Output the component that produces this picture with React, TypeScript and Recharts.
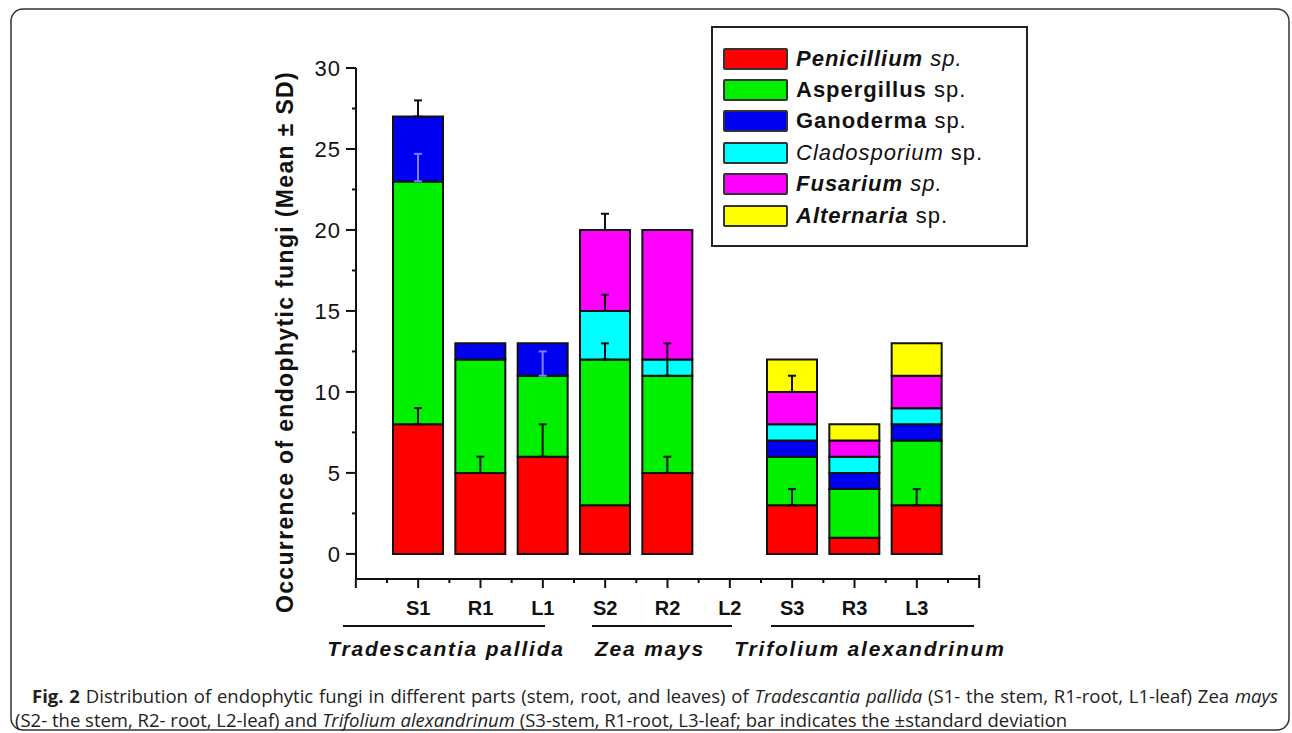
import React from 'react'
import { Bar, BarChart, ErrorBar, Legend, XAxis, YAxis } from 'recharts'

// plant parts (x categories)
const parts = ['S1', 'R1', 'L1', 'S2', 'R2', 'L2', 'S3', 'R3', 'L3']
const plantGroups = ['Tradescantia pallida', 'Zea mays', 'Trifolium alexandrinum']

// occurrence per fungus (stacked, bottom to top)
const penicillium = [8, 5, 6, 3, 5, 0, 3, 1, 3]
const aspergillus = [15, 7, 5, 9, 6, 0, 3, 3, 4]
const ganoderma = [4, 1, 2, 0, 0, 0, 1, 1, 1]
const cladosporium = [0, 0, 0, 3, 1, 0, 1, 1, 1]
const fusarium = [0, 0, 0, 5, 8, 0, 2, 1, 2]
const alternaria = [0, 0, 0, 0, 0, 0, 2, 1, 2]

// standard deviations (null = no bar drawn)
const penicilliumSd = [1, 1, 2, null, 1, null, 1, null, 1]
const aspergillusSd = [null, null, null, 1, 2, null, null, null, null]
const aspergillusFaintSd = [1.7, null, 1.5, null, null, null, null, null, null]
const ganodermaSd = [1, null, null, null, null, null, null, null, null]
const cladosporiumSd = [null, null, null, 1, null, null, null, null, null]
const fusariumSd = [null, null, null, 1, null, null, 1, null, null]

const yTicks = [0, 2.5, 5, 7.5, 10, 12.5, 15, 17.5, 20, 22.5, 25, 27.5, 30]

const series = [
    { key: 'penicillium', name: 'Penicillium', color: '#ff0000', values: penicillium, sd: penicilliumSd },
    { key: 'aspergillus', name: 'Aspergillus', color: '#00f000', values: aspergillus, sd: aspergillusSd, faint: aspergillusFaintSd },
    { key: 'ganoderma', name: 'Ganoderma', color: '#0000f0', values: ganoderma, sd: ganodermaSd },
    { key: 'cladosporium', name: 'Cladosporium', color: '#00ffff', values: cladosporium, sd: cladosporiumSd },
    { key: 'fusarium', name: 'Fusarium', color: '#ff00ff', values: fusarium, sd: fusariumSd },
    { key: 'alternaria', name: 'Alternaria', color: '#ffff00', values: alternaria, sd: null as (number | null)[] | null },
]

const legendStyles: Record<string, { name: React.CSSProperties; sp: React.CSSProperties }> = {
    Penicillium: { name: { fontWeight: 'bold', fontStyle: 'italic' }, sp: { fontStyle: 'italic' } },
    Aspergillus: { name: { fontWeight: 'bold' }, sp: {} },
    Ganoderma: { name: { fontWeight: 'bold' }, sp: {} },
    Cladosporium: { name: { fontStyle: 'italic' }, sp: {} },
    Fusarium: { name: { fontWeight: 'bold', fontStyle: 'italic' }, sp: { fontStyle: 'italic' } },
    Alternaria: { name: { fontWeight: 'bold', fontStyle: 'italic' }, sp: {} },
}

const data = parts.map((part, i) => {
    const row: Record<string, unknown> = { part }
    series.forEach((s) => {
        row[s.key] = s.values[i]
        const sd = s.sd ? s.sd[i] : null
        row[s.key + 'Err'] = sd == null ? null : [0, sd]
        const f = s.faint ? s.faint[i] : null
        row[s.key + 'Faint'] = f == null ? null : [0, f]
    })
    return row
})

const FONT = '"Liberation Sans", Arial, sans-serif'
const INK = '#111'

const XTick = (props: any) => {
    const { x, y, payload, index } = props
    const half = payload && payload.offset ? payload.offset : 31.2
    const last = index === parts.length - 1
    return (
        <g>
            <line x1={x} y1={y} x2={x} y2={y + 9} stroke={INK} strokeWidth={2} />
            <line x1={x - half} y1={y} x2={x - half} y2={y + 4} stroke={INK} strokeWidth={2} />
            {index === 0 && <line x1={x - 2 * half} y1={y} x2={x - 2 * half} y2={y + 9} stroke={INK} strokeWidth={2} />}
            {last && <line x1={x + half} y1={y} x2={x + half} y2={y + 4} stroke={INK} strokeWidth={2} />}
            {last && <line x1={x + 2 * half} y1={y - 4} x2={x + 2 * half} y2={y + 9} stroke={INK} strokeWidth={2} />}
            <text x={x} y={y + 36} textAnchor="middle" fontFamily={FONT} fontWeight="bold" fontSize={20} fill={INK}>
                {payload.value}
            </text>
        </g>
    )
}

const YTick = (props: any) => {
    const { x, y, payload } = props
    const major = payload.value % 5 === 0
    return (
        <g>
            <line x1={x - (major ? 10 : 4)} y1={y} x2={x} y2={y} stroke={INK} strokeWidth={2} />
            {major && (
                <text x={x - 15} y={y} dy="0.35em" textAnchor="end" fontFamily={FONT} fontSize={22} letterSpacing={1} fill={INK}>
                    {payload.value}
                </text>
            )}
        </g>
    )
}

const seriesOrder = series.map((s) => s.name)

const renderLegend = (props: any) => {
    const payload = (props.payload || [])
        .filter((p: any) => legendStyles[p.value])
        .sort((a: any, b: any) => seriesOrder.indexOf(a.value) - seriesOrder.indexOf(b.value))
    return (
        <div
            style={{
                boxSizing: 'border-box',
                width: 317,
                height: 221,
                border: '2px solid #222',
                background: '#fff',
                paddingTop: 15,
                fontFamily: FONT,
                fontSize: 22,
                color: INK,
            }}
        >
            {payload.map((entry: any) => {
                const st = legendStyles[entry.value]
                return (
                    <div key={entry.value} style={{ display: 'flex', alignItems: 'center', height: 31.4, paddingLeft: 10 }}>
                        <span
                            style={{
                                display: 'inline-block',
                                boxSizing: 'border-box',
                                width: 65,
                                height: 22,
                                background: entry.color,
                                border: '2px solid #333',
                                borderRadius: 2,
                                marginRight: 8,
                            }}
                        />
                        <span style={{ letterSpacing: 1, whiteSpace: 'nowrap' }}>
                            <span style={st.name}>{entry.value}</span>
                            <span style={st.sp}> sp.</span>
                        </span>
                    </div>
                )
            })}
        </div>
    )
}

const groupLines = [
    [343, 545],
    [592, 732],
    [771, 974],
]
const groupCenters = [446, 650, 870]

export default function App() {
    return (
        <div style={{ position: 'absolute', left: 0, top: 0, width: 1292, height: 733, background: '#fff' }}>
            <div style={{ position: 'absolute', left: 0, top: 0 }}>
                <BarChart width={1292} height={733} data={data} margin={{ top: 68, right: 312, bottom: 124, left: 0 }}>
                    <XAxis
                        dataKey="part"
                        padding={{ left: 31, right: 32 }}
                        tickLine={false}
                        tickSize={0}
                        tickMargin={0}
                        interval={0}
                        height={30}
                        axisLine={{ stroke: INK, strokeWidth: 2 }}
                        tick={<XTick />}
                    />
                    <XAxis xAxisId="err" dataKey="part" padding={{ left: 31, right: 32 }} height={30} hide />
                    <YAxis
                        type="number"
                        domain={[-1.55, 30]}
                        ticks={yTicks}
                        allowDataOverflow
                        interval={0}
                        width={356}
                        tickLine={false}
                        tickSize={0}
                        tickMargin={0}
                        axisLine={{ stroke: INK, strokeWidth: 2 }}
                        tick={<YTick />}
                    />
                    {series.map((s) => (
                        <Bar
                            key={s.key}
                            dataKey={s.key}
                            name={s.name}
                            stackId="a"
                            fill={s.color}
                            stroke={INK}
                            strokeWidth={2}
                            barSize={50}
                            isAnimationActive={false}
                        />
                    ))}
                    {series.map((s) => (
                        <Bar
                            key={s.key + '-err'}
                            xAxisId="err"
                            dataKey={s.key}
                            stackId="e"
                            fill="none"
                            stroke="none"
                            legendType="none"
                            barSize={50}
                            isAnimationActive={false}
                        >
                            {s.faint && (
                                <ErrorBar dataKey={s.key + 'Faint'} direction="y" width={4} stroke="#7f7fff" strokeWidth={2} />
                            )}
                            {s.sd && <ErrorBar dataKey={s.key + 'Err'} direction="y" width={4} stroke={INK} strokeWidth={2} />}
                        </Bar>
                    ))}
                    <Legend
                        layout="vertical"
                        align="center"
                        verticalAlign="middle"
                        wrapperStyle={{ position: 'absolute', left: 711, top: 26, width: 317, height: 221 }}
                        content={renderLegend}
                    />
                </BarChart>
            </div>
            <svg width={1292} height={733} style={{ position: 'absolute', left: 0, top: 0, pointerEvents: 'none' }}>
                <rect x={11} y={9} width={1278} height={721} rx={12} fill="none" stroke="#333" strokeWidth={1.5} />
                <text
                    transform="translate(293,342) rotate(-90)"
                    textAnchor="middle"
                    fontFamily={FONT}
                    fontWeight="bold"
                    fontSize={23}
                    letterSpacing={1.35}
                    fill={INK}
                >
                    Occurrence of endophytic fungi (Mean ± SD)
                </text>
                {groupLines.map(([a, b], i) => (
                    <line key={i} x1={a} y1={626} x2={b} y2={626} stroke={INK} strokeWidth={2} />
                ))}
                {plantGroups.map((g, i) => (
                    <text
                        key={g}
                        x={groupCenters[i]}
                        y={656}
                        textAnchor="middle"
                        fontFamily={FONT}
                        fontWeight="bold"
                        fontStyle="italic"
                        fontSize={21}
                        letterSpacing={1.8}
                        fill={INK}
                    >
                        {g}
                    </text>
                ))}
            </svg>
            <div
                style={{
                    position: 'absolute',
                    left: 0,
                    top: 684,
                    width: 1292,
                    fontFamily: '"Open Sans", sans-serif',
                    fontSize: 18.5,
                    lineHeight: '24px',
                    color: '#222',
                }}
            >
                <div
                    style={{
                        marginLeft: 32,
                        width: 1246,
                        textAlign: 'justify',
                        textAlignLast: 'justify',
                        whiteSpace: 'nowrap',
                    }}
                >
                    <b>Fig. 2</b> Distribution of endophytic fungi in different parts (stem, root, and leaves) of{' '}
                    <i>Tradescantia pallida</i> (S1- the stem, R1-root, L1-leaf) Zea <i>mays</i>
                </div>
                <div style={{ marginLeft: 15, whiteSpace: 'nowrap' }}>
                    (S2- the stem, R2- root, L2-leaf) and <i>Trifolium alexandrinum</i> (S3-stem, R1-root, L3-leaf; bar indicates
                    the ±standard deviation
                </div>
            </div>
        </div>
    )
}
